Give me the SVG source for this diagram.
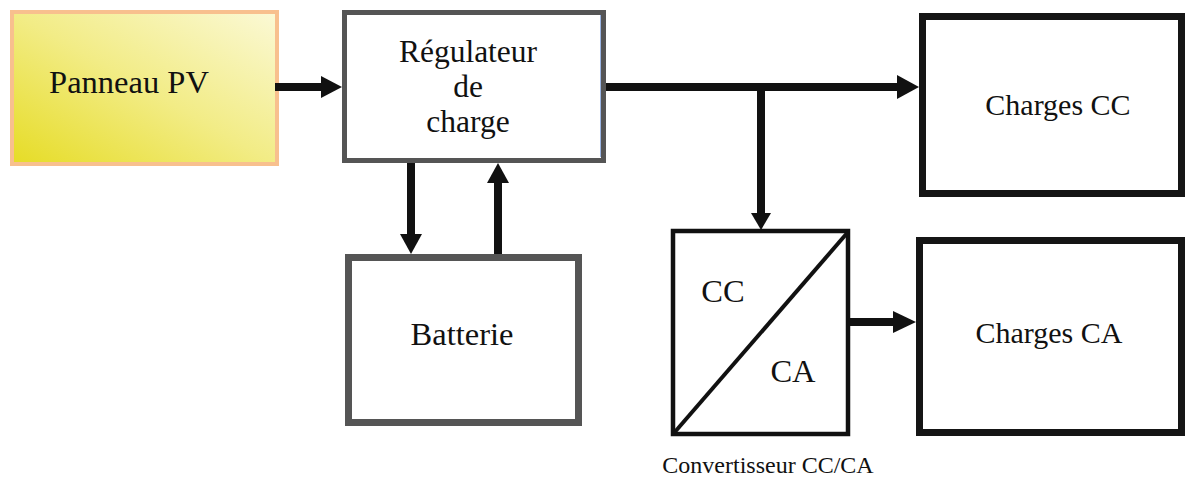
<svg xmlns="http://www.w3.org/2000/svg" width="1186" height="477" viewBox="0 0 1186 477">
  <defs>
    <linearGradient id="pvGrad" x1="0" y1="1" x2="1" y2="0">
      <stop offset="0" stop-color="#e6dc25"/>
      <stop offset="0.5" stop-color="#f2ec86"/>
      <stop offset="1" stop-color="#fbf9d6"/>
    </linearGradient>
    <style>
      .t { font-family: "Liberation Serif", "Times New Roman", serif; fill: #111; text-anchor: middle; }
      .big { font-size: 32.5px; }
      .reg { font-size: 31.5px; }
      .mid { font-size: 30px; }
      .small { font-size: 24px; }
      .wire { stroke: #111; stroke-width: 8; fill: none; }
      .head { fill: #111; }
      .black { fill: #fff; stroke: #151515; stroke-width: 7; }
      .gray { fill: #fff; stroke: #555; }
    </style>
  </defs>
  <rect width="1186" height="477" fill="#fff"/>

  <g id="panneau-pv">
    <rect x="12" y="12" width="265" height="152" fill="url(#pvGrad)" stroke="#f8c08e" stroke-width="4"/>
    <text class="t big" x="129" y="93">Panneau PV</text>
  </g>

  <g id="regulateur">
    <rect class="gray" x="344.5" y="12.5" width="259" height="148" stroke-width="5"/>
    <line x1="600.5" y1="15" x2="600.5" y2="157" stroke="#9bb5e3" stroke-width="1"/>
    <text class="t reg" x="468" y="62">Régulateur</text>
    <text class="t reg" x="468" y="97">de</text>
    <text class="t reg" x="468" y="132">charge</text>
  </g>

  <g id="batterie">
    <rect class="gray" x="348.5" y="257.5" width="230" height="165" stroke-width="7"/>
    <text class="t big" x="462" y="345">Batterie</text>
  </g>

  <g id="charges-cc">
    <rect class="black" x="922.5" y="16.5" width="259" height="177"/>
    <text class="t mid" x="1058" y="115">Charges CC</text>
  </g>

  <g id="convertisseur">
    <rect x="673" y="231" width="175" height="203" fill="#fff" stroke="#111" stroke-width="4.5"/>
    <line x1="674" y1="433" x2="848" y2="232" stroke="#111" stroke-width="4"/>
    <text class="t big" x="723" y="302">CC</text>
    <text class="t big" x="793" y="382">CA</text>
    <text class="t small" x="768" y="473">Convertisseur CC/CA</text>
  </g>

  <g id="charges-ca">
    <rect class="black" x="919.5" y="240.5" width="262" height="192"/>
    <text class="t mid" x="1049" y="343">Charges CA</text>
  </g>

  <g id="connectors">
    <line class="wire" x1="275" y1="87" x2="323" y2="87"/>
    <polygon class="head" points="321,76 342,87 321,98"/>

    <line class="wire" x1="411" y1="163" x2="411" y2="236"/>
    <polygon class="head" points="400,234 411,254 422,234"/>

    <line class="wire" x1="498" y1="254" x2="498" y2="181"/>
    <polygon class="head" points="487,183 498,163 509,183"/>

    <line class="wire" x1="606" y1="87" x2="899" y2="87"/>
    <polygon class="head" points="897,75 919,87 897,99"/>

    <line class="wire" x1="761" y1="87" x2="761" y2="215"/>
    <polygon class="head" points="751,213 761,230 771,213"/>

    <line class="wire" x1="850" y1="322" x2="895" y2="322"/>
    <polygon class="head" points="893,311 916,322 893,333"/>
  </g>
</svg>
